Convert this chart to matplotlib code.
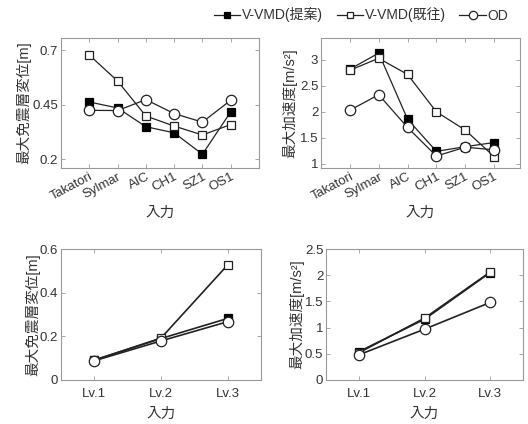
import matplotlib
matplotlib.use("Agg")
import matplotlib.pyplot as plt
from matplotlib.lines import Line2D

plt.rcParams['font.family'] = ['Liberation Sans', 'Noto Sans CJK JP', 'DejaVu Sans']

stations = ["Takatori", "Sylmar", "AIC", "CH1", "SZ1", "OS1"]
levels = ["Lv.1", "Lv.2", "Lv.3"]
series_names = ["V-VMD(提案)", "V-VMD(既往)", "OD"]

# top-left: max isolation-layer displacement [m]
disp_prop = [0.462, 0.435, 0.349, 0.321, 0.223, 0.417]
disp_prev = [0.677, 0.558, 0.398, 0.352, 0.311, 0.359]
disp_od = [0.424, 0.423, 0.473, 0.409, 0.370, 0.470]

# top-right: max acceleration [m/s^2]
acc_prop = [2.82, 3.13, 1.86, 1.24, 1.33, 1.41]
acc_prev = [2.80, 3.03, 2.72, 2.00, 1.65, 1.14]
acc_od = [2.03, 2.33, 1.70, 1.15, 1.32, 1.27]

# bottom-left: displacement by level
lv_disp_prop = [0.092, 0.190, 0.282]
lv_disp_prev = [0.090, 0.192, 0.527]
lv_disp_od = [0.088, 0.179, 0.267]

# bottom-right: acceleration by level
lv_acc_prop = [0.54, 1.16, 2.05]
lv_acc_prev = [0.52, 1.18, 2.06]
lv_acc_od = [0.48, 0.97, 1.48]

W, H = 528, 424
fig = plt.figure(figsize=(W / 100, H / 100), dpi=100)

def ax_at(x0, y0, x1, y1):
    return fig.add_axes([x0 / W, 1 - y1 / H, (x1 - x0) / W, (y1 - y0) / H])

TXT = '#333333'
SPINE = '#999999'
LINE = '#222222'

styles = [
    dict(marker='s', mfc='black', mec='black', ms=6),
    dict(marker='s', mfc='white', mec='#222222', ms=6),
    dict(marker='o', mfc='white', mec='#222222', ms=7.5),
]

def style_ax(ax):
    for s in ax.spines.values():
        s.set_color(SPINE)
        s.set_linewidth(0.8)
    ax.tick_params(direction='in', top=True, right=True, length=3, width=0.6,
                   color=SPINE, labelcolor=TXT, labelsize=9.5, pad=2)

def plot_series(ax, x, data, lw=0.9):
    for d, st in zip(data, styles):
        ax.plot(x, d, color=LINE, lw=lw, mew=0.9, **st)

YL = 10.5

# top-left
ax1 = ax_at(61, 38, 259, 168)
x6 = list(range(1, len(stations) + 1))
plot_series(ax1, x6, [disp_prop, disp_prev, disp_od])
ax1.set_xlim(0, 7)
ax1.set_ylim(0.16, 0.755)
ax1.set_yticks([0.2, 0.45, 0.7])
ax1.set_yticklabels(["0.2", "0.45", "0.7"])
ax1.set_xticks(x6)
ax1.set_xticklabels(stations, rotation=28, ha='right', rotation_mode='anchor')
ax1.set_ylabel("最大免震層変位[m]", color=TXT, fontsize=YL, labelpad=1)
ax1.set_xlabel("入力", color=TXT, fontsize=YL, labelpad=2)
style_ax(ax1)

# top-right
ax2 = ax_at(321, 38, 520, 168)
plot_series(ax2, x6, [acc_prop, acc_prev, acc_od])
ax2.set_xlim(0, 6.9)
ax2.set_ylim(0.92, 3.42)
ax2.set_yticks([1, 1.5, 2, 2.5, 3])
ax2.set_yticklabels(["1", "1.5", "2", "2.5", "3"])
ax2.set_xticks(x6)
ax2.set_xticklabels(stations, rotation=28, ha='right', rotation_mode='anchor')
ax2.set_ylabel("最大加速度[m/s²]", color=TXT, fontsize=YL, labelpad=2)
ax2.set_xlabel("入力", color=TXT, fontsize=YL, labelpad=2)
style_ax(ax2)

# bottom-left
x3 = list(range(1, len(levels) + 1))
ax3 = ax_at(61, 249, 261, 380)
plot_series(ax3, x3, [lv_disp_prop, lv_disp_prev, lv_disp_od], lw=1.2)
ax3.set_xlim(0.5, 3.5)
ax3.set_ylim(0, 0.6)
ax3.set_yticks([0, 0.2, 0.4, 0.6])
ax3.set_yticklabels(["0", "0.2", "0.4", "0.6"])
ax3.set_xticks(x3)
ax3.set_xticklabels(levels)
ax3.set_ylabel("最大免震層変位[m]", color=TXT, fontsize=YL, labelpad=0)
ax3.set_xlabel("入力", color=TXT, fontsize=YL, labelpad=5)
style_ax(ax3)
ax3.tick_params(axis='x', pad=6)

# bottom-right
ax4 = ax_at(326, 249, 523, 380)
plot_series(ax4, x3, [lv_acc_prop, lv_acc_prev, lv_acc_od], lw=1.2)
ax4.set_xlim(0.5, 3.5)
ax4.set_ylim(0, 2.5)
ax4.set_yticks([0, 0.5, 1, 1.5, 2, 2.5])
ax4.set_yticklabels(["0", "0.5", "1", "1.5", "2", "2.5"])
ax4.set_xticks(x3)
ax4.set_xticklabels(levels)
ax4.set_ylabel("最大加速度[m/s²]", color=TXT, fontsize=YL, labelpad=0)
ax4.set_xlabel("入力", color=TXT, fontsize=YL, labelpad=5)
style_ax(ax4)
ax4.tick_params(axis='x', pad=6)

handles = [Line2D([], [], color=LINE, lw=0.9, mew=0.9,
                  **{**st, 'ms': st['ms'] * 0.8}) for st in styles]
fig.legend(handles, series_names, loc='center', bbox_to_anchor=(361 / W, 1 - 15 / H),
           ncol=3, frameon=False, fontsize=10, handlelength=1.9, handletextpad=0.1,
           columnspacing=1.0, labelcolor=TXT)

fig.savefig("out.png", dpi=100, facecolor='white')
